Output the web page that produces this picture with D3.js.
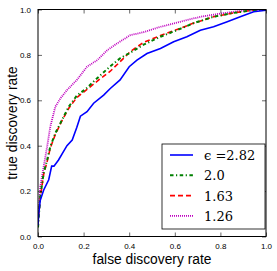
<!DOCTYPE html>
<html>
<head>
<meta charset="utf-8">
<script src="https://cdn.jsdelivr.net/npm/d3@7"></script>
<style>
body { margin:0; background:#fff; }
svg { display:block; }
</style>
</head>
<body>
<svg id="roc"></svg>
<script>
//tick values for both axes
var ticks = [0.0, 0.2, 0.4, 0.6, 0.8, 1.0]

//legend labels
var labels = ["\u03f5 =2.82", "2.0", "1.63", "1.26"]

//curves, [fdr, tdr]
var eps282 = [[0,0.05],[0.003,0.1],[0.01,0.16],[0.025,0.205],[0.047,0.25],[0.06,0.31],[0.07,0.31],
    [0.09,0.337],[0.127,0.40],[0.15,0.425],[0.17,0.48],[0.186,0.53],[0.215,0.55],[0.244,0.587],
    [0.288,0.623],[0.317,0.652],[0.36,0.69],[0.40,0.748],[0.434,0.777],[0.478,0.806],[0.537,0.828],
    [0.595,0.858],[0.653,0.88],[0.712,0.909],[0.77,0.924],[0.83,0.946],[0.887,0.968],[0.946,0.99],[1,0.997]]

var eps20 = [[0,0.04],[0.003,0.08],[0.01,0.176],[0.025,0.28],[0.04,0.337],[0.054,0.396],[0.076,0.455],
    [0.105,0.513],[0.135,0.572],[0.17,0.62],[0.215,0.655],[0.273,0.71],[0.317,0.75],[0.36,0.785],
    [0.405,0.81],[0.463,0.845],[0.537,0.88],[0.61,0.909],[0.683,0.94],[0.77,0.968],[0.858,0.985],
    [0.946,0.997],[1,1]]

var eps163 = [[0,0.05],[0.003,0.09],[0.01,0.17],[0.025,0.275],[0.04,0.33],[0.054,0.39],[0.076,0.45],
    [0.105,0.51],[0.135,0.565],[0.17,0.612],[0.215,0.648],[0.273,0.695],[0.317,0.728],[0.36,0.77],
    [0.405,0.815],[0.463,0.855],[0.537,0.885],[0.61,0.912],[0.683,0.94],[0.77,0.968],[0.858,0.985],
    [0.946,0.997],[1,1]]

var eps126 = [[0,0.06],[0.003,0.11],[0.01,0.22],[0.025,0.308],[0.04,0.396],[0.054,0.484],[0.076,0.572],
    [0.098,0.608],[0.127,0.645],[0.17,0.689],[0.215,0.748],[0.26,0.777],[0.303,0.82],[0.346,0.85],
    [0.405,0.887],[0.463,0.90],[0.537,0.924],[0.624,0.946],[0.712,0.968],[0.8,0.982],[0.887,0.994],[1,1]]

var screen = {width:277, height:271}
var margins = {top:9.5, left:38, right:11, bottom:34.5}
var graph = {
    width:screen.width-margins.left-margins.right,
    height:screen.height-margins.top-margins.bottom
}

var svg = d3.select("#roc")
    .attr("width",screen.width)
    .attr("height",screen.height)

var xScale = d3.scaleLinear().domain([0,1]).range([0,graph.width])
var yScale = d3.scaleLinear().domain([0,1]).range([graph.height,0])

var g = svg.append("g")
    .attr("transform","translate("+margins.left+","+margins.top+")")

//series styles
var series = [
    {data:eps282, color:"#0000ff", dash:null, width:1.6},
    {data:eps20, color:"#008000", dash:"3.5,2.5,1.2,2.5", width:2},
    {data:eps163, color:"#ff0000", dash:"5,3", width:1.6},
    {data:eps126, color:"#bf00bf", dash:"1,1", width:1.8}
]

var line = d3.line()
    .x(function(d){return xScale(d[0])})
    .y(function(d){return yScale(d[1])})

var clip = svg.append("clipPath").attr("id","clip")
    .append("rect").attr("width",graph.width).attr("height",graph.height)

g.append("g").attr("clip-path","url(#clip)")
    .selectAll("path")
    .data(series.slice().reverse())
    .enter()
    .append("path")
    .attr("d",function(s){return line(s.data)})
    .attr("fill","none")
    .attr("stroke",function(s){return s.color})
    .attr("stroke-width",function(s){return s.width})
    .attr("stroke-dasharray",function(s){return s.dash})

//axes with inward ticks, matplotlib style
var fmt = d3.format(".1f")
var xAxis = d3.axisBottom(xScale).tickValues(ticks).tickFormat(fmt).tickSizeInner(-4).tickSizeOuter(0).tickPadding(7)
var yAxis = d3.axisLeft(yScale).tickValues(ticks).tickFormat(fmt).tickSizeInner(-4).tickSizeOuter(0).tickPadding(7)
var xTop = d3.axisTop(xScale).tickValues(ticks).tickFormat("").tickSizeInner(-4).tickSizeOuter(0)
var yRight = d3.axisRight(yScale).tickValues(ticks).tickFormat("").tickSizeInner(-4).tickSizeOuter(0)

var axes = g.append("g").attr("font-family","Liberation Sans, Arial, sans-serif")
axes.append("g").attr("transform","translate(0,"+graph.height+")").call(xAxis)
axes.append("g").call(yAxis)
axes.append("g").call(xTop)
axes.append("g").attr("transform","translate("+graph.width+",0)").call(yRight)
axes.selectAll(".domain").remove()
axes.selectAll("text").attr("font-size",8).attr("fill","#000")
axes.selectAll("line").attr("stroke","#000").attr("stroke-width",0.6)

g.append("rect")
    .attr("width",graph.width).attr("height",graph.height)
    .attr("fill","none").attr("stroke","#000").attr("stroke-width",1)

//axis labels
svg.append("text")
    .attr("x",margins.left+graph.width/2).attr("y",263.5)
    .attr("text-anchor","middle")
    .attr("font-family","Liberation Sans, Arial, sans-serif")
    .attr("font-size",13.8)
    .text("false discovery rate")

svg.append("text")
    .attr("transform","translate(16.5,"+(margins.top+graph.height/2)+") rotate(-90)")
    .attr("text-anchor","middle")
    .attr("font-family","Liberation Sans, Arial, sans-serif")
    .attr("font-size",13.8)
    .text("true discovery rate")

//legend
var legend = svg.append("g").attr("transform","translate(162,144)")
legend.append("rect")
    .attr("width",103).attr("height",85)
    .attr("fill","#fff").attr("stroke","#000").attr("stroke-width",0.8)

var rows = legend.selectAll(".row")
    .data(series)
    .enter()
    .append("g")
    .attr("transform",function(s,i){return "translate(0,"+(11+i*20.3)+")"})

rows.append("line")
    .attr("x1",8).attr("x2",31)
    .attr("stroke",function(s){return s.color})
    .attr("stroke-width",function(s){return s.width})
    .attr("stroke-dasharray",function(s){return s.dash})

rows.append("text")
    .attr("x",42).attr("y",5)
    .attr("font-family","DejaVu Serif, serif")
    .attr("font-size",13)
    .text(function(s,i){return labels[i]})
</script>
</body>
</html>
